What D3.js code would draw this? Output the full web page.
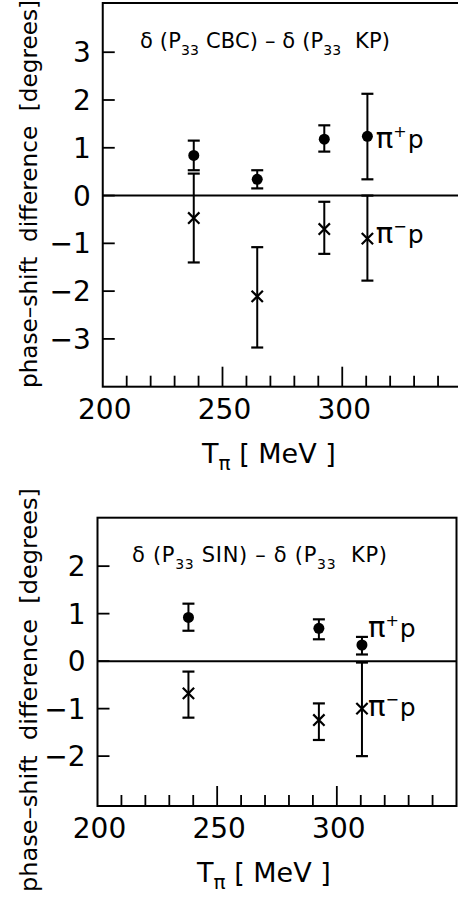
<!DOCTYPE html>
<html>
<head>
<meta charset="utf-8">
<script src="https://cdn.jsdelivr.net/npm/d3@7"></script>
<style>
  html, body { margin: 0; padding: 0; background: #fff; }
  svg { display: block; font-family: "DejaVu Sans", sans-serif; }
</style>
</head>
<body>
<svg id="chart" width="458" height="901"></svg>
<script>
// upper panel: CBC minus KP
const cbcEnergy = [238, 264.5, 292.5, 310.5];
const cbcPlus = [0.84, 0.34, 1.18, 1.24];
const cbcPlusLo = [0.53, 0.15, 0.92, 0.34];
const cbcPlusHi = [1.15, 0.53, 1.47, 2.13];
const cbcMinus = [-0.47, -2.11, -0.70, -0.90];
const cbcMinusLo = [-1.40, -3.18, -1.22, -1.78];
const cbcMinusHi = [0.46, -1.08, -0.13, 0.0];

// lower panel: SIN minus KP
const sinEnergy = [238, 292.5, 310.5];
const sinPlus = [0.92, 0.69, 0.34];
const sinPlusLo = [0.64, 0.46, 0.14];
const sinPlusHi = [1.21, 0.88, 0.51];
const sinMinus = [-0.68, -1.24, -1.0];
const sinMinusLo = [-1.19, -1.66, -2.0];
const sinMinusHi = [-0.22, -0.89, -0.03];

const xTickLabels = [200, 250, 300];
const cbcYTicks = [-3, -2, -1, 0, 1, 2, 3];
const sinYTicks = [-2, -1, 0, 1, 2];

const svg = d3.select('#chart');

function zipPoints(xs, ys, lo, hi) {
  return xs.map((x, i) => ({ x: x, y: ys[i], lo: lo[i], hi: hi[i] }));
}

function drawPanel(cfg) {
  const x = d3.scaleLinear().domain([200, 350]).range([cfg.left, cfg.right]);
  const y = d3.scaleLinear().domain(cfg.yDomain).range([cfg.bottom, cfg.top]);
  const g = svg.append('g');

  // frame
  g.append('rect')
    .attr('x', cfg.left).attr('y', cfg.top)
    .attr('width', cfg.right - cfg.left).attr('height', cfg.bottom - cfg.top)
    .attr('fill', 'none').attr('stroke', '#000').attr('stroke-width', 2);

  // x ticks every 10 MeV, pointing inward
  const xTicks = d3.range(210, 350, 10);
  g.selectAll('.xtick').data(xTicks).join('line')
    .attr('x1', d => x(d)).attr('x2', d => x(d))
    .attr('y1', cfg.bottom)
    .attr('y2', d => cfg.bottom - (d % 50 === 0 ? 20 : 11))
    .attr('stroke', '#000').attr('stroke-width', 1.8);

  g.selectAll('.xlab').data(xTickLabels).join('text')
    .attr('x', d => x(d) + 2)
    .attr('y', cfg.bottom + 32)
    .attr('text-anchor', 'middle')
    .attr('font-size', 28)
    .text(d => d);

  // y ticks
  g.selectAll('.ytick').data(cfg.yTicks).join('line')
    .attr('x1', cfg.left).attr('x2', cfg.left + 12)
    .attr('y1', d => y(d)).attr('y2', d => y(d))
    .attr('stroke', '#000').attr('stroke-width', 1.8);

  g.selectAll('.ylab').data(cfg.yTicks).join('text')
    .attr('x', cfg.left - 12)
    .attr('y', d => y(d))
    .attr('dy', '0.36em')
    .attr('text-anchor', 'end')
    .attr('font-size', 28)
    .text(d => d < 0 ? '\u2212' + Math.abs(d) : d);

  // zero line
  g.append('line')
    .attr('x1', cfg.left).attr('x2', cfg.right)
    .attr('y1', y(0)).attr('y2', y(0))
    .attr('stroke', '#000').attr('stroke-width', 2);

  // error bars
  const allPts = cfg.plus.concat(cfg.minus);
  const bars = g.selectAll('.err').data(allPts).join('g');
  bars.append('line')
    .attr('x1', d => x(d.x)).attr('x2', d => x(d.x))
    .attr('y1', d => y(d.lo)).attr('y2', d => y(d.hi))
    .attr('stroke', '#000').attr('stroke-width', 2);
  ['lo', 'hi'].forEach(k => {
    bars.append('line')
      .attr('x1', d => x(d.x) - 6).attr('x2', d => x(d.x) + 6)
      .attr('y1', d => y(d[k])).attr('y2', d => y(d[k]))
      .attr('stroke', '#000').attr('stroke-width', 2.2);
  });

  // pi+ p: filled dots
  g.selectAll('.dot').data(cfg.plus).join('circle')
    .attr('cx', d => x(d.x)).attr('cy', d => y(d.y))
    .attr('r', 5.5).attr('fill', '#000');

  // pi- p: crosses
  g.selectAll('.crs').data(cfg.minus).join('path')
    .attr('transform', d => `translate(${x(d.x)},${y(d.y)}) rotate(45)`)
    .attr('d', 'M-8,0H8M0,-8V8')
    .attr('stroke', '#000').attr('stroke-width', 2.2).attr('fill', 'none');

  // series labels
  cfg.labels.forEach(lb => {
    const t = g.append('text')
      .attr('x', x(lb.x)).attr('y', y(lb.y))
      .attr('font-size', 25);
    t.append('tspan').attr('font-size', 29).text('\u03c0');
    t.append('tspan').attr('font-size', 16).attr('dy', -11).text(lb.sign);
    t.append('tspan').attr('dy', 11).attr('dx', 1).text('p');
  });

  // title
  const title = g.append('text')
    .attr('x', cfg.titleX).attr('y', cfg.titleY)
    .attr('font-size', 21)
    .attr('textLength', cfg.titleW)
    .attr('lengthAdjust', 'spacing');
  title.append('tspan').text('\u03b4 (P');
  title.append('tspan').attr('font-size', 14).attr('dy', 7).text('33');
  title.append('tspan').attr('dy', -7).text(' ' + cfg.name + ') \u2013 \u03b4 (P');
  title.append('tspan').attr('font-size', 14).attr('dy', 7).text('33');
  title.append('tspan').attr('dy', -7).text('\u00a0 KP)');

  // x axis title
  const xt = g.append('text')
    .attr('x', cfg.xTitleX).attr('y', cfg.bottom + 76)
    .attr('font-size', 27);
  xt.append('tspan').text('T');
  xt.append('tspan').attr('font-size', 20).attr('dy', 7).text('\u03c0');
  xt.append('tspan').attr('dy', -7).text(' [ MeV ]');

  // y axis title
  svg.append('text')
    .attr('transform', `translate(37,${cfg.yTitleC}) rotate(-90)`)
    .attr('text-anchor', 'middle')
    .attr('font-size', 23)
    .attr('textLength', cfg.yTitleLen)
    .attr('lengthAdjust', 'spacingAndGlyphs')
    .text('phase\u2013shift\u00a0 difference\u00a0 [degrees]');
}

drawPanel({
  left: 102.75, right: 462, top: 3, bottom: 386.7,
  yDomain: [-4.0, 4.03], yTicks: cbcYTicks,
  plus: zipPoints(cbcEnergy, cbcPlus, cbcPlusLo, cbcPlusHi),
  minus: zipPoints(cbcEnergy, cbcMinus, cbcMinusLo, cbcMinusHi),
  labels: [{ x: 314, y: 1.0, sign: '+' }, { x: 314, y: -1.0, sign: '\u2212' }],
  name: 'CBC', titleX: 140, titleY: 48, titleW: 250,
  xTitleX: 202, yTitleC: 194, yTitleLen: 388
});

drawPanel({
  left: 97.5, right: 456.5, top: 517.7, bottom: 806,
  yDomain: [-3.05, 3.02], yTicks: sinYTicks,
  plus: zipPoints(sinEnergy, sinPlus, sinPlusLo, sinPlusHi),
  minus: zipPoints(sinEnergy, sinMinus, sinMinusLo, sinMinusHi),
  labels: [{ x: 313, y: 0.5, sign: '+' }, { x: 313, y: -1.15, sign: '\u2212' }],
  name: 'SIN', titleX: 132, titleY: 562, titleW: 255,
  xTitleX: 197, yTitleC: 690, yTitleLen: 404
});
</script>
</body>
</html>
